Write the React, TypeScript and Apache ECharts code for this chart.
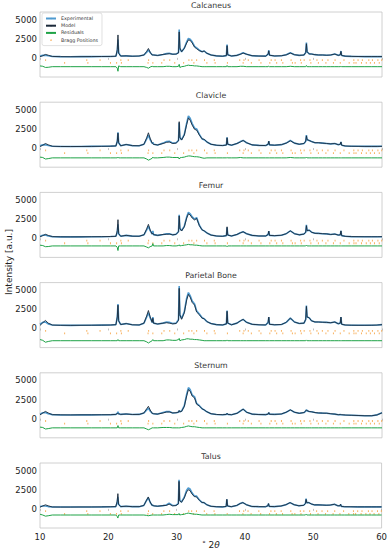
import React, { useEffect, useRef } from 'react';
import * as echarts from 'echarts';

// ---------- data ----------
const twoTheta = [
  10, 10.4, 10.8, 11.2, 11.8, 13, 14.5, 16, 17.5, 19,
  20.3, 21.1, 21.3, 21.4, 21.5, 21.8, 22.6, 23.5, 24.5, 25.2,
  25.6, 25.85, 26.1, 26.4, 26.5, 26.6, 27.2, 28.0, 28.5, 28.9,
  29.4, 29.9, 30.25, 30.35, 30.45, 30.7, 31.1, 31.45, 31.7, 31.95,
  32.25, 32.6, 32.9, 33.3, 33.7, 34.0, 34.4, 35.0, 35.8, 36.7,
  37.25, 37.35, 37.45, 38.0, 38.8, 39.3, 39.7, 40.2, 41.0, 42.0,
  43.0, 43.35, 43.45, 43.55, 44.3, 45.3, 46.0, 46.6, 47.2, 47.9,
  48.6, 48.85, 48.95, 49.05, 49.35, 49.7, 50.2, 50.7, 51.3, 51.9,
  52.5, 53.1, 53.6, 53.9, 54.0, 54.1, 54.6, 55.5, 56.5, 57.5,
  58.5, 59.3, 60,
];

const panelTitles = ['Calcaneus', 'Clavicle', 'Femur', 'Parietal Bone', 'Sternum', 'Talus'];

// observed intensities (Experimental)
const calcaneusObs = [
  250, 330, 350, 270, 190, 160, 150, 160, 170, 180,
  190, 220, 900, 2400, 700, 240, 260, 220, 250, 380,
  750, 1030, 700, 400, 420, 380, 320, 450, 560, 600,
  480, 500, 700, 3700, 1200, 800, 1300, 2100, 2550, 2450,
  2100, 1500, 1300, 1000, 800, 900, 600, 380, 260, 220,
  300, 1750, 400, 240, 330, 520, 680, 480, 280, 240,
  230, 500, 1000, 350, 250, 280, 400, 680, 420, 330,
  380, 700, 2000, 800, 520, 500, 420, 380, 380, 350,
  380, 500, 330, 400, 900, 320, 230, 200, 180, 170,
  170, 170, 170,
];
const clavicleObs = [
  300, 420, 450, 330, 240, 210, 200, 210, 220, 230,
  250, 280, 900, 2050, 700, 300, 470, 320, 300, 500,
  1200, 1700, 1100, 600, 770, 500, 400, 650, 850, 900,
  650, 700, 1000, 3300, 1400, 1100, 1800, 3300, 4200, 3900,
  3200, 2600, 2500, 1800, 1200, 1100, 800, 500, 380, 330,
  400, 1400, 500, 380, 600, 850, 1000, 700, 420, 350,
  330, 500, 900, 420, 380, 450, 650, 1000, 650, 500,
  600, 900, 1700, 1100, 1000, 850, 700, 700, 650, 600,
  550, 600, 450, 500, 800, 380, 280, 240, 230, 220,
  220, 220, 230,
];
const femurObs = [
  280, 400, 420, 300, 220, 190, 180, 190, 200, 210,
  230, 260, 800, 1830, 600, 270, 380, 280, 270, 450,
  1100, 1570, 1000, 550, 970, 480, 380, 500, 580, 600,
  450, 520, 900, 3070, 1300, 1000, 1600, 2800, 3400, 3200,
  2800, 2500, 2700, 1700, 1100, 970, 700, 420, 300, 260,
  350, 1400, 420, 300, 500, 720, 850, 600, 380, 300,
  300, 500, 940, 380, 340, 400, 600, 970, 600, 450,
  550, 800, 1750, 1000, 1060, 800, 650, 640, 600, 580,
  500, 550, 420, 450, 970, 350, 260, 220, 210, 200,
  200, 200, 210,
];
const parietalObs = [
  550, 800, 850, 600, 450, 420, 410, 420, 430, 440,
  450, 500, 1500, 3200, 1000, 520, 640, 480, 460, 700,
  1500, 2050, 1400, 800, 1490, 700, 580, 700, 850, 800,
  650, 700, 1200, 5550, 1800, 1300, 2200, 4000, 4700, 4300,
  3600, 3200, 2300, 1900, 1400, 1280, 900, 640, 500, 460,
  600, 2350, 700, 480, 700, 1000, 1190, 800, 550, 480,
  460, 800, 1490, 550, 480, 520, 800, 1360, 850, 650,
  700, 1200, 2990, 1500, 1400, 1000, 850, 850, 820, 800,
  750, 850, 620, 700, 1490, 550, 460, 430, 420, 420,
  430, 450, 500,
];
const sternumObs = [
  600, 780, 800, 650, 530, 500, 490, 500, 500, 510,
  520, 560, 700, 900, 650, 560, 620, 550, 560, 750,
  1150, 1370, 1000, 700, 720, 650, 600, 800, 920, 930,
  750, 780, 850, 1060, 900, 1000, 1700, 3200, 4060, 3800,
  3100, 2860, 2000, 1700, 1300, 1150, 900, 650, 550, 520,
  560, 700, 560, 520, 700, 1000, 1240, 850, 600, 540,
  530, 600, 800, 580, 560, 620, 850, 1150, 850, 700,
  800, 1000, 1150, 1050, 940, 900, 800, 750, 730, 720,
  650, 600, 520, 540, 560, 520, 480, 450, 420, 380,
  380, 500, 770,
];
const talusObs = [
  320, 380, 380, 300, 250, 240, 240, 250, 250, 260,
  270, 300, 800, 1590, 600, 300, 350, 290, 290, 450,
  1100, 1460, 900, 450, 500, 400, 350, 430, 510, 730,
  450, 480, 700, 3800, 1100, 900, 1500, 2400, 2750, 2600,
  2100, 1700, 1680, 1200, 850, 820, 550, 350, 280, 260,
  320, 1250, 380, 290, 450, 700, 820, 550, 320, 290,
  280, 400, 690, 320, 300, 380, 550, 820, 550, 400,
  470, 700, 1340, 800, 820, 650, 520, 520, 500, 480,
  500, 600, 400, 400, 600, 330, 280, 270, 260, 260,
  260, 260, 260,
];

// differences observed - model (Residuals before offset)
const calcaneusDiff = [
  100, 50, -100, -80, 0, 0, 0, 0, 0, 0,
  0, 0, -200, -600, 100, 0, 0, 0, 0, 0,
  -100, -200, -50, 50, 0, 0, 0, 0, 50, 50,
  0, 0, 50, 300, -100, 0, 50, 150, 200, 150,
  150, 100, 100, 50, 0, 0, 0, 0, 0, 0,
  0, 150, 0, 0, 0, 50, 50, 0, 0, 0,
  0, 0, 80, 0, 0, 0, 0, 50, 0, 0,
  0, 0, 150, 0, 0, 0, 0, 0, 0, 0,
  0, 0, 0, 0, 50, 0, 0, 0, 0, 0,
  0, 0, 0,
];
const clavicleDiff = [
  100, 50, -150, -100, 0, 0, 0, 0, 0, 0,
  0, 0, 0, 100, 0, 0, 0, 0, 0, 0,
  -150, -300, -200, -50, 100, 0, 0, 50, 100, 100,
  50, 50, 50, -150, 0, 50, 100, 200, 250, 250,
  200, 150, 150, 100, 0, -50, 0, 0, 0, 0,
  0, 50, 0, 0, 0, 50, 0, 0, 0, 0,
  0, 0, 0, 0, 0, 0, 0, 50, 0, 0,
  0, 0, 100, 0, 0, 0, 0, 0, 0, 0,
  0, 0, 0, 0, 0, 0, 0, 0, 0, 0,
  0, 0, 0,
];
const femurDiff = [
  100, 50, -100, -80, 0, 0, 0, 0, 0, 0,
  0, 0, -200, -600, 0, 0, 0, 0, 0, 0,
  -150, -250, -100, 0, 300, 0, 0, 0, 50, 50,
  0, 0, 50, 150, 0, 50, 100, 150, 200, 150,
  150, 100, 100, 50, 0, 0, 0, 0, 0, 0,
  0, -100, 0, 0, 0, 0, 0, 0, 0, 0,
  0, 0, 0, 0, 0, 0, 0, 0, 0, 0,
  0, 0, 100, 0, 0, 0, 0, 0, 0, 0,
  0, 0, 0, 0, 0, 0, 0, 0, 0, 0,
  0, 0, 0,
];
const parietalDiff = [
  150, 50, -200, -100, 0, 0, 0, 0, 0, 0,
  0, 0, 0, 150, 0, 0, 0, 0, 0, 0,
  -150, -300, -150, 0, 150, 0, 0, 0, 100, 100,
  50, 50, 150, 300, 0, 100, 150, 250, 250, 200,
  200, 150, 150, 100, 50, 0, 0, 0, 0, 0,
  0, 100, 0, 0, 0, 0, 0, 0, 0, 0,
  0, 0, 0, 0, 0, 0, 0, 0, 0, 0,
  0, 0, 100, 0, 0, 0, 0, 0, 0, 0,
  0, 0, 0, 0, 0, 0, 0, 0, 0, 0,
  0, 0, 0,
];
const sternumDiff = [
  100, 50, -150, -100, 0, 0, 0, 0, 0, 0,
  0, 0, 0, 300, 0, 0, 0, 0, 0, 0,
  -150, -250, -150, 0, 0, 0, 0, 50, 50, 50,
  0, 0, 0, 0, 0, 50, 100, 200, 250, 200,
  150, 150, 100, 50, 0, 0, 0, 0, 0, 0,
  0, 0, 0, 0, 0, 0, 0, 0, 0, 0,
  0, 0, 0, 0, 0, 0, 0, 0, 0, 0,
  0, 0, 0, 0, 0, 0, 0, 0, 0, 0,
  0, 0, 0, 0, 0, 0, 0, 0, 0, 0,
  0, 0, 0,
];
const talusDiff = [
  100, 0, -150, -100, 0, 0, 0, 0, 0, 0,
  0, 0, -200, -400, 0, 0, 0, 0, 0, 0,
  -50, -100, -50, 0, 0, 0, 0, 0, 50, 100,
  50, 50, 50, 200, 0, 50, 100, 200, 250, 200,
  150, 100, 100, 50, 0, 0, 0, 0, 0, 0,
  0, 0, 0, 0, 0, 0, 0, 0, 0, 0,
  0, 0, 0, 0, 0, 0, 0, 0, 0, 0,
  0, 0, 100, 0, 0, 0, 0, 0, 0, 0,
  0, 0, 0, 0, 0, 0, 0, 0, 0, 0,
  0, 0, 0,
];

const residualOffsets = [-1150, -1280, -1000, -1600, -1200, -800];

// Bragg reflection positions (two phases) and their plotting levels
const braggPhaseA = [
  10.82, 16.84, 18.78, 21.82, 22.9, 25.88, 28.13, 28.97, 31.77, 32.2, 32.9, 34.05,
  35.48, 39.2, 39.82, 40.45, 42.03, 43.8, 44.37, 45.3, 46.71, 48.1, 48.62, 49.47,
  50.49, 51.28, 52.1, 53.14, 54.44, 55.88, 56.5, 57.13, 58.07, 58.6, 59.4, 59.96,
];
const braggPhaseB = [
  13.6, 17.0, 20.3, 21.2, 21.9, 25.8, 26.5, 27.8, 29.7, 31.0, 32.5, 34.4, 35.6,
  37.4, 39.7, 40.9, 42.3, 43.6, 44.6, 45.5, 46.9, 47.3, 48.2, 49.6, 50.7, 51.8,
  52.9, 53.9, 55.2, 55.9, 56.2, 57.0, 57.7, 58.3, 58.9, 59.6,
];
const braggLevels = [-300, -650];

const yTickLabels = [0, 2500, 5000];
const xTickLabels = [10, 20, 30, 40, 50, 60];

const panelObs = [calcaneusObs, clavicleObs, femurObs, parietalObs, sternumObs, talusObs];
const panelDiff = [calcaneusDiff, clavicleDiff, femurDiff, parietalDiff, sternumDiff, talusDiff];

// ---------- styling ----------
const FONT = 'DejaVu Sans';
const C_EXP = '#4f9bd0';
const C_MODEL = '#1c2a3a';
const C_RES = '#1fa347';
const C_BRAGG = '#f7a544';

export default function App() {
  const ref = useRef<HTMLDivElement>(null);

  useEffect(() => {
    if (!ref.current) return;
    const chart = echarts.init(ref.current, null, { renderer: 'svg' });

    const gridTop0 = 12;
    const step = 90.2;
    const gridH = 65;
    const gridLeft = 40;
    const gridW = 342;

    const grids: any[] = [];
    const xAxes: any[] = [];
    const yAxes: any[] = [];
    const titles: any[] = [];
    const series: any[] = [];

    panelTitles.forEach((name, i) => {
      const top = gridTop0 + i * step;
      grids.push({
        left: gridLeft, top, width: gridW, height: gridH,
        show: true, borderColor: '#c4c4c4', borderWidth: 0.8, backgroundColor: '#fff',
        containLabel: false,
      });
      xAxes.push({
        type: 'value', gridIndex: i, min: 10, max: 60, interval: 10,
        axisLine: { show: false },
        axisTick: { show: true, length: 2, lineStyle: { color: '#999', width: 0.6 } },
        splitLine: { show: false },
        axisLabel: {
          show: i === panelTitles.length - 1,
          fontSize: 8.5, color: '#222', fontFamily: FONT, margin: 4,
          formatter: (v: number) => (xTickLabels.includes(v) ? String(v) : ''),
        },
      });
      yAxes.push({
        type: 'value', gridIndex: i, min: -2500, max: 6000, interval: 2500,
        axisLine: { show: false },
        axisTick: { show: false },
        splitLine: { show: false },
        axisLabel: {
          fontSize: 8.5, color: '#222', fontFamily: FONT, margin: 3,
          formatter: (v: number) => (yTickLabels.includes(v) ? String(v) : ''),
        },
      });
      titles.push({
        text: name,
        left: gridLeft + gridW / 2,
        top: top - 11,
        textAlign: 'center',
        padding: 0,
        textStyle: { fontSize: 7.8, fontWeight: 'normal', color: '#333', fontFamily: FONT },
      });

      const obs = panelObs[i];
      const diff = panelDiff[i];
      series.push({
        name: 'Experimental', type: 'line', xAxisIndex: i, yAxisIndex: i,
        symbol: 'none', silent: true, z: 2,
        lineStyle: { color: C_EXP, width: 1.6 },
        itemStyle: { color: C_EXP },
        data: twoTheta.map((x, k) => [x, obs[k]]),
      });
      series.push({
        name: 'Model', type: 'line', xAxisIndex: i, yAxisIndex: i,
        symbol: 'none', silent: true, z: 3,
        lineStyle: { color: C_MODEL, width: 0.9 },
        itemStyle: { color: C_MODEL },
        data: twoTheta.map((x, k) => [x, obs[k] - diff[k]]),
      });
      series.push({
        name: 'Residuals', type: 'line', xAxisIndex: i, yAxisIndex: i,
        symbol: 'none', silent: true, z: 2,
        lineStyle: { color: C_RES, width: 1 },
        itemStyle: { color: C_RES },
        data: twoTheta.map((x, k) => [x, diff[k] + residualOffsets[i]]),
      });
      series.push({
        name: 'Bragg Positions', type: 'scatter', xAxisIndex: i, yAxisIndex: i,
        symbol: 'rect', symbolSize: [1, 1.8], silent: true, z: 1,
        itemStyle: { color: C_BRAGG, opacity: 0.85 },
        data: [
          ...braggPhaseA.map((x) => [x, braggLevels[0]]),
          ...braggPhaseB.map((x) => [x, braggLevels[1]]),
        ],
      });
    });

    const option: any = {
      animation: false,
      backgroundColor: '#fff',
      textStyle: { fontFamily: FONT },
      title: titles,
      grid: grids,
      xAxis: xAxes,
      yAxis: yAxes,
      legend: {
        left: 42, top: 13, orient: 'vertical',
        itemWidth: 10, itemHeight: 1.6, itemGap: 2.2,
        padding: [3, 4, 3, 3],
        borderColor: '#cccccc', borderWidth: 0.6, borderRadius: 2,
        backgroundColor: 'rgba(255,255,255,0.85)',
        selectedMode: false,
        textStyle: { fontSize: 4.8, color: '#333', fontFamily: FONT },
        data: [
          { name: 'Experimental' },
          { name: 'Model' },
          { name: 'Residuals' },
          { name: 'Bragg Positions', icon: 'circle' },
        ],
      },
      graphic: [
        {
          type: 'text', x: 9, y: 262, rotation: Math.PI / 2,
          style: {
            text: 'Intensity [a.u.]', fontSize: 9, fill: '#222', fontFamily: FONT,
            textAlign: 'center', textVerticalAlign: 'middle',
          },
        },
        {
          type: 'text', x: gridLeft + gridW / 2, y: 545,
          style: {
            text: '{d|°}{n| 2}{t|θ}',
            fill: '#222', fontFamily: FONT,
            textAlign: 'center', textVerticalAlign: 'middle',
            rich: {
              d: { fontSize: 7, fill: '#222', fontFamily: FONT, verticalAlign: 'top' },
              n: { fontSize: 9, fill: '#222', fontFamily: FONT },
              t: { fontSize: 9, fill: '#222', fontFamily: FONT, fontStyle: 'italic' },
            },
          },
        },
      ],
      series,
    };

    chart.setOption(option);
    return () => chart.dispose();
  }, []);

  return (
    <div
      ref={ref}
      style={{ position: 'absolute', left: 0, top: 0, width: 390, height: 550, background: '#fff' }}
    />
  );
}
